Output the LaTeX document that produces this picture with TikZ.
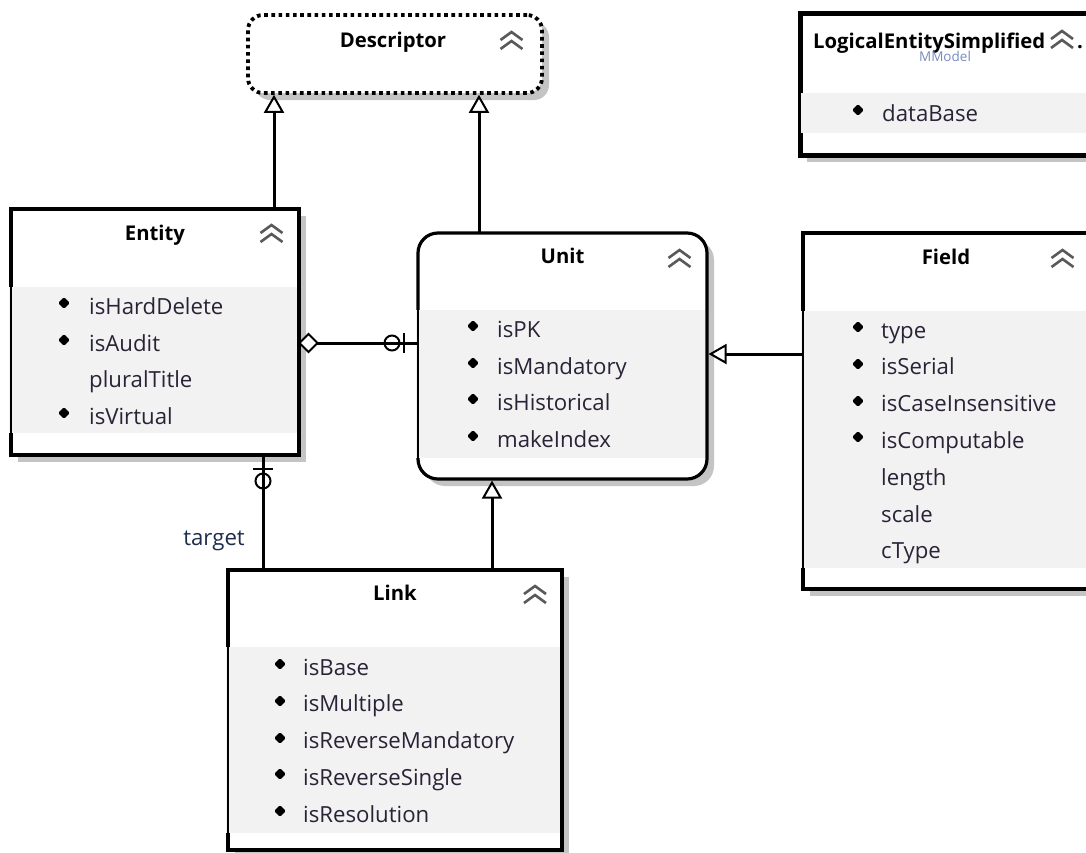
\documentclass[tikz,border=0pt]{standalone}
\usepackage{fontspec}
\usetikzlibrary{arrows.meta,calc}
\newfontfamily\uifont{Open Sans}
\definecolor{bandcol}{HTML}{F2F2F2}
\definecolor{shade}{HTML}{C4C4C4}
\definecolor{itemcol}{HTML}{2A2236}
\definecolor{chevcol}{HTML}{5A5A5A}
\definecolor{mmcol}{HTML}{7A8DC0}
\definecolor{tgtcol}{HTML}{1F2D4D}
\begin{document}
\begin{tikzpicture}[x=1pt,y=-1pt,
  box/.style={draw=black, line width=3.2pt, fill=white, inner sep=0pt, outer sep=0pt, anchor=north west},
  shadowfill/.style={fill=shade, draw=none},
  bandfill/.style={fill=bandcol, draw=none},
  thinedge/.style={draw=black, line width=1.3pt},
  ttl/.style={anchor=base, inner sep=0pt, font=\uifont\bfseries\fontsize{20.3}{24}\selectfont, text=black},
  itm/.style={anchor=base west, inner sep=0pt, font=\uifont\fontsize{22.2}{26}\selectfont, text=itemcol},
  conn/.style={line width=3pt, draw=black},
  gen/.style={conn, -{Triangle[open, length=18pt, width=20pt, line width=2pt]}},
  chev/.pic={\draw[chevcol, line width=2.6pt] (-11,-1)--(0,-9)--(11,-1);
             \draw[chevcol, line width=2.6pt] (-11,8)--(0,0)--(11,8);},
  bul/.pic={\fill[black, rounded corners=1.2pt] (0,-5.8)--(5.8,0)--(0,5.8)--(-5.8,0)--cycle;}
]
\useasboundingbox (0,0) rectangle (1086,852);
\clip (0,0) rectangle (1086,852);
\fill[white] (0,0) rectangle (1086,852);

% ---------- Descriptor ----------
\fill[shadowfill, rounded corners=15pt] (255,22) rectangle (549,100);
\node[box, line width=3.8pt, rounded corners=15pt, dash pattern=on 3.6pt off 3.6pt, minimum width=294pt, minimum height=78pt] (desc) at (248,15) {};
\node[ttl] (descT) at ($(desc.north)+(-2,32)$) {Descriptor};
\pic at ($(desc.north east)+(-30.5,26)$) {chev};

% ---------- LogicalEntitySimplified ----------
\fill[shadowfill] (807,20) rectangle (1101,162);
\node[box, line width=5pt, minimum width=294pt, minimum height=142pt] (les) at (800,13) {};
\fill[bandfill] (801,93) rectangle (1092,133);
\draw[thinedge] (800,93) -- (800,133);
\node[ttl, anchor=base west] (lesT) at (813,48) {LogicalEntitySimplified};
\pic at (1062,40) {chev};
\node[ttl, anchor=base west] (lesDot) at (1077,48) {.};
\node[anchor=base, inner sep=0pt, font=\uifont\fontsize{13.5}{15}\selectfont, text=mmcol] (lesM) at (945,61) {MModel};
\pic at (858,110) {bul};
\node[itm] (les1) at (882,121) {dataBase};

% ---------- Entity ----------
\fill[shadowfill] (18,216) rectangle (306,462);
\node[box, minimum width=288pt, minimum height=246pt] (entity) at (11,209) {};
\fill[bandfill] (9.4,287) rectangle (297.4,433);
\draw[thinedge] (11,287) -- (11,433);
\node[ttl] (entT) at ($(entity.north)+(0,31)$) {Entity};
\pic at ($(entity.north east)+(-27.5,25)$) {chev};
\pic at (64,303) {bul};
\node[itm] (ent1) at (89,314) {isHardDelete};
\pic at (64,340) {bul};
\node[itm] (ent2) at (89,351) {isAudit};
\node[itm] (ent3) at (89,387) {pluralTitle};
\pic at (64,413) {bul};
\node[itm] (ent4) at (89,424) {isVirtual};

% ---------- Unit ----------
\fill[shadowfill, rounded corners=20pt] (425,240) rectangle (714,486);
\node[box, rounded corners=20pt, minimum width=289pt, minimum height=246pt] (unit) at (418,233) {};
\fill[bandfill] (416.4,310) rectangle (705.4,458);
\draw[thinedge] (418,310) -- (418,458);
\node[ttl] (unitT) at ($(unit.north)+(0,30)$) {Unit};
\pic at ($(unit.north east)+(-27.5,26)$) {chev};
\pic at (473,326) {bul};
\node[itm] (unit1) at (497,337) {isPK};
\pic at (473,363) {bul};
\node[itm] (unit2) at (497,374) {isMandatory};
\pic at (473,399) {bul};
\node[itm] (unit3) at (497,410) {isHistorical};
\pic at (473,436) {bul};
\node[itm] (unit4) at (497,447) {makeIndex};

% ---------- Field ----------
\fill[shadowfill] (810,240) rectangle (1096,596);
\node[box, minimum width=286pt, minimum height=356pt] (field) at (803,233) {};
\fill[bandfill] (801.4,311) rectangle (1087.4,568);
\draw[thinedge] (803,311) -- (803,568);
\node[ttl] (fieldT) at ($(field.north)+(0,31)$) {Field};
\pic at ($(field.north east)+(-26.5,26)$) {chev};
\pic at (858,327) {bul};
\node[itm] (field1) at (881,338) {type};
\pic at (858,364) {bul};
\node[itm] (field2) at (881,374.8) {isSerial};
\pic at (858,401) {bul};
\node[itm] (field3) at (881,411.6) {isCaseInsensitive};
\pic at (858,437) {bul};
\node[itm] (field4) at (881,448.4) {isComputable};
\node[itm] (field5) at (881,485.2) {length};
\node[itm] (field6) at (881,522) {scale};
\node[itm] (field7) at (881,558.8) {cType};

% ---------- Link ----------
\fill[shadowfill] (235,577) rectangle (569,857);
\node[box, minimum width=334pt, minimum height=280pt] (link) at (228,570) {};
\fill[bandfill] (226.4,647) rectangle (560.4,833);
\draw[thinedge] (228,647) -- (228,833);
\node[ttl] (linkT) at ($(link.north)+(0,30)$) {Link};
\pic at ($(link.north east)+(-27,25)$) {chev};
\pic at (280,664) {bul};
\node[itm] (link1) at (303,675) {isBase};
\pic at (280,701) {bul};
\node[itm] (link2) at (303,711.8) {isMultiple};
\pic at (280,738) {bul};
\node[itm] (link3) at (303,748.6) {isReverseMandatory};
\pic at (280,774) {bul};
\node[itm] (link4) at (303,785.4) {isReverseSingle};
\pic at (280,811) {bul};
\node[itm] (link5) at (303,822.2) {isResolution};

% ---------- Connectors ----------
\coordinate (xEd) at (274,0);
\coordinate (xUd) at (479,0);
\coordinate (yEU) at (0,343);
\coordinate (yFU) at (0,354);
\coordinate (xLU) at (492,0);
\coordinate (xLE) at (263,0);

\draw[gen] (entity.north -| xEd) -- ($(desc.south -| xEd)+(0,1.8)$);
\draw[gen] (unit.north -| xUd) -- ($(desc.south -| xUd)+(0,1.8)$);
\draw[gen] (field.west |- yFU) -- ($(unit.east |- yFU)+(1.5,0)$);
\draw[gen] (link.north -| xLU) -- ($(unit.south -| xLU)+(0,1.5)$);

% Entity -- Unit
\draw[conn] (entity.east |- yEU) -- (unit.west |- yEU);
\draw[line width=2pt, fill=white] ($(entity.east |- yEU)+(0.5,0)$) -- ++(9,-9) -- ++(9,9) -- ++(-9,9) -- cycle;
\draw[line width=2.4pt] ($(unit.west |- yEU)+(-14,-10)$) -- ++(0,20);
\draw[line width=2pt] ($(unit.west |- yEU)+(-26,0)$) circle[radius=7.5pt];

% Link -- Entity (target)
\draw[conn] (link.north -| xLE) -- (entity.south -| xLE);
\draw[line width=2.4pt] ($(entity.south -| xLE)+(-10,14)$) -- ++(20,0);
\draw[line width=2pt] ($(entity.south -| xLE)+(0,26)$) circle[radius=7.5pt];
\node[anchor=base east, inner sep=0pt, font=\uifont\fontsize{22.2}{26}\selectfont, text=tgtcol] (tgt) at ($(entity.south -| xLE)+(-18,90)$) {target};
\end{tikzpicture}
\end{document}
